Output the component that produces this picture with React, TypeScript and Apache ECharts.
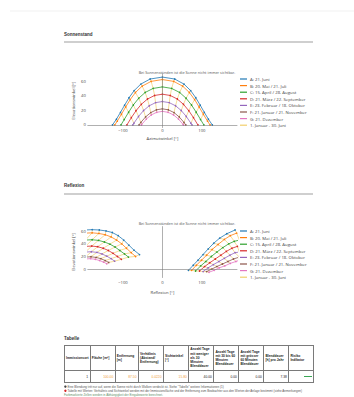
import React, { useEffect, useRef } from 'react';
import * as echarts from 'echarts';

// ---------- data ----------
const dateNames = [
  'A: 21. Juni',
  'B: 20. Mai / 21. Juli',
  'C: 15. April / 28. August',
  'D: 21. März / 22. September',
  'E: 23. Februar / 18. Oktober',
  'F: 21. Januar / 21. November',
  'G: 21. Dezember',
];
const dateColors = ['#1f77b4', '#ff7f0e', '#2ca02c', '#d62728', '#9467bd', '#8c564b', '#e377c2'];
const hourLineName = '1. Januar - 30. Juni';
const hourLineColor = '#f2cf6b';

const xTicks = [-100, 0, 100];
const yTicks = [0, 20, 40, 60];

// Sun position (azimuth from south, elevation) at full hours 5 ... 19
const hourLabels = ['5', '6', '7', '8', '9', '10', '11', '12', '13', '14', '15', '16', '17', '18', '19'];
const riseAz = [126.5, 120.7, 105.0, 90.0, 75.0, 59.3, 53.5];
const azA = [-116.5, -106.2, -95.8, -84.6, -71.6, -54.7, -31.2, 0, 31.2, 54.7, 71.6, 84.6, 95.8, 106.2, 116.5];
const elA = [7.9, 17.2, 27.0, 37.1, 46.9, 55.8, 62.7, 65.4, 62.7, 55.8, 46.9, 37.1, 27.0, 17.2, 7.9];
const azB = [-114.3, -103.7, -93.0, -81.6, -68.3, -51.3, -28.6, 0, 28.6, 51.3, 68.3, 81.6, 93.0, 103.7, 114.3];
const elB = [5.2, 14.7, 24.6, 34.6, 44.3, 53.0, 59.5, 62.0, 59.5, 53.0, 44.3, 34.6, 24.6, 14.7, 5.2];
const azC = [null, -96.7, -85.6, -73.7, -60.0, -43.6, -23.4, 0, 23.4, 43.6, 60.0, 73.7, 85.6, 96.7, null];
const elC = [null, 7.4, 17.4, 27.3, 36.5, 44.4, 49.9, 52.0, 49.9, 44.4, 36.5, 27.3, 17.4, 7.4, null];
const azD = [null, null, -78.7, -66.8, -53.4, -37.8, -19.8, 0, 19.8, 37.8, 53.4, 66.8, 78.7, null, null];
const elD = [null, null, 10.0, 19.5, 28.2, 35.4, 40.3, 42.0, 40.3, 35.4, 28.2, 19.5, 10.0, null, null];
const azE = [null, null, -72.2, -60.5, -47.7, -33.3, -17.3, 0, 17.3, 33.3, 47.7, 60.5, 72.2, null, null];
const elE = [null, null, 2.4, 11.6, 19.7, 26.2, 30.5, 32.0, 30.5, 26.2, 19.7, 11.6, 2.4, null, null];
const azF = [null, null, null, -54.6, -42.6, -29.4, -15.0, 0, 15.0, 29.4, 42.6, 54.6, null, null, null];
const elF = [null, null, null, 3.5, 11.0, 16.9, 20.7, 22.0, 20.7, 16.9, 11.0, 3.5, null, null, null];
const azG = [null, null, null, -52.6, -40.9, -28.2, -14.4, 0, 14.4, 28.2, 40.9, 52.6, null, null, null];
const elG = [null, null, null, 0.6, 8.0, 13.7, 17.3, 18.6, 17.3, 13.7, 8.0, 0.6, null, null, null];
const sunAz = [azA, azB, azC, azD, azE, azF, azG];
const sunEl = [elA, elB, elC, elD, elE, elF, elG];

// Reflection directions [azimuth, elevation]
const reflLeftA = [[-195, 62], [-178, 62.5], [-160, 62], [-143, 60.5], [-127, 58], [-112, 53], [-98, 46], [-85, 38], [-72, 30], [-58, 23]];
const reflLeftB = [[-195, 57], [-178, 57.5], [-161, 56.5], [-145, 54.5], [-130, 51], [-116, 46], [-103, 40], [-91, 33], [-79, 26], [-68, 20]];
const reflLeftC = [[-195, 46], [-178, 46.5], [-162, 45.5], [-147, 43], [-133, 39.5], [-120, 35], [-108, 29.5], [-96, 24], [-86, 19]];
const reflLeftD = [[-195, 36], [-179, 36.5], [-164, 35.5], [-150, 33], [-137, 29.5], [-125, 25], [-114, 20], [-104, 15.5]];
const reflLeftE = [[-195, 27], [-180, 27.5], [-166, 26.5], [-153, 24], [-141, 20.5], [-130, 16.5], [-121, 12.5]];
const reflLeftF = [[-195, 19], [-181, 19.5], [-168, 18.5], [-156, 16.5], [-145, 13.5], [-136, 10.5]];
const reflLeftG = [[-195, 16], [-182, 16.5], [-170, 15.5], [-159, 13.5], [-149, 11], [-141, 8.5]];
const reflRightA = [[66, -2], [78, 6], [90, 14], [103, 23], [116, 32], [130, 41], [145, 49], [163, 56], [184, 62]];
const reflRightB = [[74, -2], [86, 6], [99, 14], [112, 22], [126, 31], [141, 39], [157, 47], [172, 53], [188, 57]];
const reflRightC = [[84, -3], [97, 5], [110, 12], [124, 20], [138, 27], [153, 34], [168, 40], [182, 44], [195, 46]];
const reflRightD = [[94, -3], [107, 4], [120, 10], [134, 16], [148, 22], [162, 28], [176, 33], [190, 36]];
const reflRightE = [[103, -4], [116, 2], [129, 7], [143, 12], [157, 17], [171, 22], [184, 26], [195, 27]];
const reflRightF = [[112, -4], [125, 0], [138, 4], [152, 8], [166, 12], [180, 16], [195, 19]];
const reflRightG = [[118, -5], [131, -2], [144, 2], [158, 5], [172, 9], [186, 12], [195, 14]];
const reflLeft = [reflLeftA, reflLeftB, reflLeftC, reflLeftD, reflLeftE, reflLeftF, reflLeftG];
const reflRight = [reflRightA, reflRightB, reflRightC, reflRightD, reflRightE, reflRightF, reflRightG];

const chartTitle = 'Bei Sonnenständen ist die Sonne nicht immer sichtbar.';
const sunXName = 'Azimutwinkel [°]';
const reflXName = 'Reflexion [°]';
const yName = 'Elevationswinkel [°]';

const tableHeaders = [
  'Immissionsort',
  'Fläche [m²]',
  'Entfernung [m]',
  'Verhältnis (Abstand/ Entfernung)',
  'Sichtwinkel [°]',
  'Anzahl Tage mit weniger als 30 Minuten Blenddauer',
  'Anzahl Tage mit 30 bis 60 Minuten Blenddauer',
  'Anzahl Tage mit grösser 60 Minuten Blenddauer',
  'Blenddauer [h] pro Jahr',
  'Risiko Indikator',
];
const tableValues = ['1', '100.00', '87.50', '0.0220', '15.80', '40.00', '0.00', '0.00', '7.38', ''];
const tableHighlighted = [false, true, true, true, true, false, false, false, false, false];
const colWidths = [25.7, 25, 23.3, 25, 25.3, 25, 25, 25, 25, 24.5];

const note1 = 'Eine Blendung tritt nur auf, wenn die Sonne nicht durch Wolken verdeckt ist. Siehe "Tabelle" weitere Informationen (1)';
const note2 = 'Tabelle mit Werten: Verhältnis und Sichtwinkel werden mit der Immissionsfläche und der Entfernung zum Beobachter aus den Werten der Anlage bestimmt (siehe Anmerkungen)';
const note3 = 'Farbmarkierte Zellen werden in Abhängigkeit der Eingabewerte berechnet.';

// ---------- helpers ----------
const FONT = '"Open Sans", "Liberation Sans", Arial, sans-serif';
const fmtX = (v: number) => (xTicks.includes(v) ? (v < 0 ? '\u2212' + Math.abs(v) : String(v)) : '');
const fmtY = (v: number) => (yTicks.includes(v) ? String(v) : '');

function sunPoints(k: number) {
  const pts: number[][] = [[-riseAz[k], 0]];
  hourLabels.forEach((_, i) => {
    const a = sunAz[k][i];
    const e = sunEl[k][i];
    if (a !== null && e !== null) pts.push([a, e as number]);
  });
  pts.push([riseAz[k], 0]);
  return pts;
}

const lineBase = (xi: number, color: string) => ({
  type: 'line',
  xAxisIndex: xi,
  yAxisIndex: xi,
  showSymbol: true,
  symbol: 'circle',
  symbolSize: 1.6,
  lineStyle: { width: 0.8, color },
  itemStyle: { color },
  clip: true,
  z: 3,
});

const zeroLines = {
  silent: true,
  symbol: ['none', 'none'],
  label: { show: false },
  lineStyle: { color: '#7a7a7a', width: 0.6, type: 'solid' },
  data: [{ xAxis: 0 }, { yAxis: 0 }],
  animation: false,
};

function buildOption() {
  const series: any[] = [];
  hourLabels.forEach((_, i) => {
    const pts: number[][] = [];
    sunAz.forEach((az, k) => {
      if (az[i] !== null) pts.push([az[i] as number, sunEl[k][i] as number]);
    });
    series.push({
      type: 'line', name: hourLineName, xAxisIndex: 0, yAxisIndex: 0, data: pts,
      showSymbol: false, lineStyle: { width: 0.7, color: hourLineColor }, itemStyle: { color: hourLineColor }, z: 2,
    });
  });
  dateNames.forEach((name, k) => {
    series.push({ ...lineBase(0, dateColors[k]), name, data: sunPoints(k), ...(k === 0 ? { markLine: zeroLines } : {}) });
  });
  for (let i = 0; i < 9; i++) {
    const ptsR: number[][] = [];
    const ptsL: number[][] = [];
    reflRight.forEach((arr) => { if (arr[i]) ptsR.push(arr[i]); });
    reflLeft.forEach((arr) => { const p = arr[arr.length - 1 - i]; if (p) ptsL.push(p); });
    [ptsR, ptsL].forEach((pts) => series.push({
      type: 'line', name: hourLineName, xAxisIndex: 1, yAxisIndex: 1, data: pts,
      showSymbol: false, lineStyle: { width: 0.7, color: hourLineColor }, itemStyle: { color: hourLineColor }, z: 2,
    }));
  }
  dateNames.forEach((name, k) => {
    series.push({ ...lineBase(1, dateColors[k]), name, data: reflLeft[k], ...(k === 0 ? { markLine: zeroLines } : {}) });
    series.push({ ...lineBase(1, dateColors[k]), name, data: reflRight[k] });
  });

  const xAxisBase = (gi: number, nameText: string, nameGap: number, margin: number) => ({
    type: 'value', gridIndex: gi, min: -190, max: 190, interval: 5,
    name: nameText, nameLocation: 'middle', nameGap,
    nameTextStyle: { fontSize: 4.2, color: '#444', fontFamily: FONT },
    axisLine: { show: false, onZero: false }, axisTick: { show: false }, splitLine: { show: false },
    axisLabel: { formatter: fmtX, fontSize: 4.2, color: '#444', margin, fontFamily: FONT },
  });
  const yAxisBase = (gi: number, min: number, max: number) => ({
    type: 'value', gridIndex: gi, min, max, interval: 2,
    name: yName, nameLocation: 'middle', nameGap: 11.5, nameRotate: 90,
    nameTextStyle: { fontSize: 4.2, color: '#444', fontFamily: FONT },
    axisLine: { show: false, onZero: false }, axisTick: { show: false }, splitLine: { show: false },
    axisLabel: { formatter: fmtY, fontSize: 4.2, color: '#444', margin: 1.5, fontFamily: FONT },
  });
  const legendNames = [...dateNames, hourLineName];
  const legendBase = (top: number) => ({
    orient: 'vertical', left: 240, top, padding: 0, itemGap: 2, itemWidth: 7, itemHeight: 1.2,
    icon: 'rect', selectedMode: false, data: legendNames,
    textStyle: { fontSize: 4.3, color: '#444', lineHeight: 4.6, fontFamily: FONT, padding: [0, 0, 0, -2] },
  });
  const text = (t: string, x: number, y: number, size: number, opts: any = {}) => ({
    type: 'text', x, y, silent: true,
    style: { text: t, fontSize: size, fontFamily: '"Liberation Sans", Arial, sans-serif', fill: '#333', verticalAlign: 'middle', align: 'left', ...opts },
  });
  const hline = (y: number, x1: number, x2: number, color: string, w: number) => ({
    type: 'line', silent: true, shape: { x1, y1: y, x2, y2: y }, style: { stroke: color, lineWidth: w },
  });

  return {
    animation: false,
    backgroundColor: '#ffffff',
    grid: [
      { left: 87.4, top: 73.7, width: 150, height: 54.2 },
      { left: 87.4, top: 226.2, width: 150, height: 51.7 },
    ],
    xAxis: [xAxisBase(0, sunXName, 9, 1), xAxisBase(1, reflXName, 13, 3)],
    yAxis: [yAxisBase(0, -4, 70), yAxisBase(1, -14, 68)],
    legend: [legendBase(76.7), legendBase(228.7)],
    series,
    graphic: [
      hline(11, 10, 354, '#e8e8e8', 0.6),
      text('Sonnenstand', 64, 34, 4.5, { fontWeight: 'bold' }),
      hline(42, 64, 313, '#777', 0.7),
      text(chartTitle, 187, 72, 3.8, { align: 'center', fill: '#555', fontFamily: FONT }),
      text('Reflexion', 64, 185.7, 4.5, { fontWeight: 'bold' }),
      hline(194, 64, 313, '#777', 0.7),
      text(chartTitle, 187, 223.3, 3.8, { align: 'center', fill: '#555', fontFamily: FONT }),
      text('Tabelle', 64, 338, 4.5, { fontWeight: 'bold' }),
      { type: 'circle', silent: true, shape: { cx: 65.4, cy: 386.6, r: 1.2 }, style: { fill: '#444' } },
      text(note1, 67.5, 386.6, 3, { fill: '#555' }),
      { type: 'circle', silent: true, shape: { cx: 65.4, cy: 390.7, r: 1.2 }, style: { fill: '#d62728' } },
      text(note2, 67.5, 390.7, 3, { fill: '#555' }),
      text(note3, 64, 394.8, 3, { fill: '#5f8f6a' }),
    ],
  };
}

export default function App() {
  const ref = useRef<HTMLDivElement>(null);
  useEffect(() => {
    if (!ref.current) return;
    const chart = echarts.init(ref.current, undefined, { renderer: 'svg' });
    chart.setOption(buildOption() as any);
    return () => chart.dispose();
  }, []);

  const cellBorder = '0.6px solid #7a7a7a';
  return (
    <div style={{ position: 'fixed', left: 0, top: 0, width: 354, height: 397, background: '#fff', overflow: 'hidden' }}>
      <div ref={ref} style={{ position: 'absolute', left: 0, top: 0, width: 354, height: 397 }} />
      <table
        style={{
          position: 'absolute', left: 64, top: 345, width: 250, borderCollapse: 'collapse', tableLayout: 'fixed',
          fontFamily: '"Liberation Sans", Arial, sans-serif', fontSize: 3.3, color: '#222',
        }}
      >
        <colgroup>
          {colWidths.map((w, i) => <col key={i} style={{ width: w }} />)}
        </colgroup>
        <tbody>
          <tr style={{ height: 25 }}>
            {tableHeaders.map((h, i) => (
              <td key={i} style={{ border: cellBorder, fontWeight: 'bold', padding: '0 1px', verticalAlign: 'middle', lineHeight: '4.2px', overflow: 'hidden' }}>{h}</td>
            ))}
          </tr>
          <tr style={{ height: 12 }}>
            {tableValues.map((v, i) => (
              <td key={i} style={{ border: cellBorder, textAlign: 'right', padding: '0 1.5px', verticalAlign: 'middle', lineHeight: '4px', color: tableHighlighted[i] ? '#f0a040' : '#222' }}>
                {i === tableValues.length - 1 ? (
                  <span style={{ display: 'inline-block', width: 8, height: 1.5, background: '#3aa655', verticalAlign: 'middle' }} />
                ) : v}
              </td>
            ))}
          </tr>
        </tbody>
      </table>
    </div>
  );
}
